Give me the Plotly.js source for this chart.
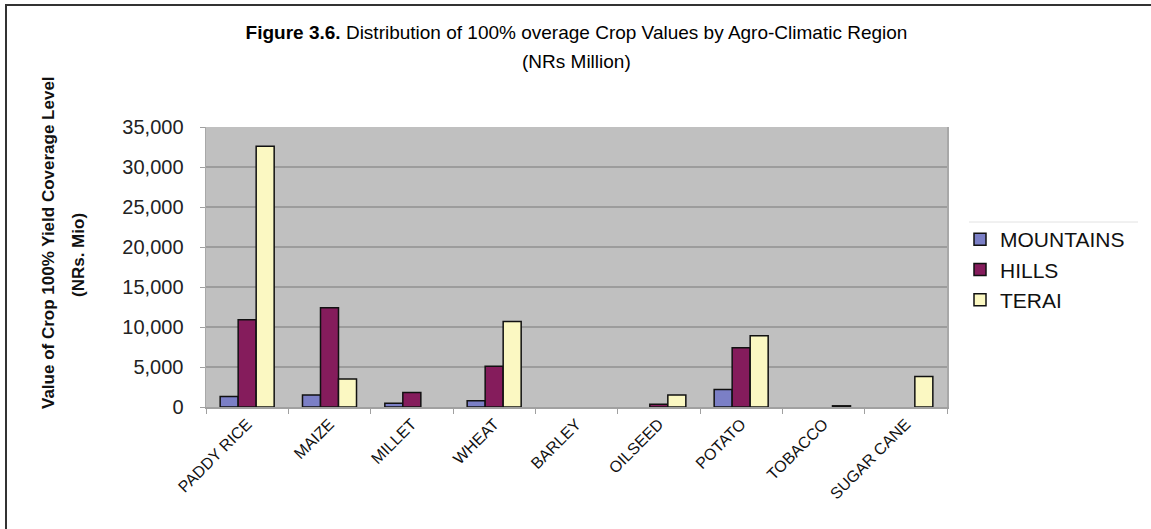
<!DOCTYPE html>
<html>
<head>
<meta charset="utf-8">
<script src="https://cdn.plot.ly/plotly-3.0.1.min.js"></script>
<style>
  html, body { margin: 0; padding: 0; background: #ffffff; }
  #chart { width: 1151px; height: 529px; }
</style>
</head>
<body>
<div id="chart"></div>
<script>
// ---- data (NRs million) ----
const crops = ["PADDY RICE", "MAIZE", "MILLET", "WHEAT", "BARLEY", "OILSEED", "POTATO", "TOBACCO", "SUGAR CANE"];
const mountains = [1300, 1500, 460, 790, null, null, 2200, null, null];
const hills     = [10900, 12400, 1800, 5100, null, 340, 7400, null, null];
const terai     = [32600, 3500, null, 10700, null, 1500, 8900, 150, 3800];
const seriesNames = ["MOUNTAINS", "HILLS", "TERAI"];
const yTicks = [0, 5000, 10000, 15000, 20000, 25000, 30000, 35000];

const colors = ["#7b7fc6", "#851c5c", "#fbf8c2"];
const FONT = "Liberation Sans, Arial, Helvetica, sans-serif";

const traces = [mountains, hills, terai].map((vals, i) => ({
  type: "bar",
  name: seriesNames[i],
  x: crops,
  y: vals,
  marker: { color: colors[i], line: { color: "#111111", width: 1.5 } },
  hoverinfo: "x+y+name"
}));

// plot area geometry in px
const L = 206, R = 947, T = 127, B = 407, W = 1151, H = 529;
const pw = R - L, ph = B - T;
const px = v => (v - L) / pw;
const py = v => (B - v) / ph;

const layout = {
  width: W, height: H,
  margin: { l: L, r: W - R, t: T, b: H - B, pad: 0 },
  paper_bgcolor: "#ffffff",
  plot_bgcolor: "#c0c0c0",
  font: { family: FONT, color: "#000000" },
  showlegend: true,
  barmode: "group",
  bargap: 0.344,
  bargroupgap: 0,
  title: {
    text: "<b>Figure 3.6.</b> Distribution of 100% overage Crop Values by Agro-Climatic Region",
    font: { family: FONT, size: 19, color: "#000000" },
    x: 0.5, xref: "paper", xanchor: "center",
    y: 1 - 32 / H, yref: "container", yanchor: "middle"
  },
  xaxis: {
    type: "category",
    tickangle: -45,
    tickson: "boundaries",
    ticks: "outside", ticklen: 5, tickcolor: "#a0a0a0",
    showline: true, linecolor: "#a0a0a0", linewidth: 1.5,
    mirror: false,
    showgrid: false,
    tickfont: { family: FONT, size: 16, color: "#111111" }
  },
  yaxis: {
    range: [0, 35000],
    tickvals: yTicks,
    tickformat: ",d",
    ticks: "outside", ticklen: 5, tickcolor: "#a0a0a0",
    ticklabelstandoff: 12,
    showline: true, linecolor: "#a8a8a8", linewidth: 1.5,
    mirror: true,
    showgrid: true, gridcolor: "#9c9c9c", gridwidth: 1.5,
    zeroline: false,
    tickfont: { family: FONT, size: 20, color: "#222222" }
  },
  legend: {
    x: px(960), y: py(219), xanchor: "left", yanchor: "top",
    xref: "paper", yref: "paper",
    bgcolor: "rgba(0,0,0,0)",
    borderwidth: 0,
    itemwidth: 30,
    tracegroupgap: 0,
    font: { family: FONT, size: 21, color: "#111111" }
  },
  annotations: [
    {
      text: "(NRs Million)",
      xref: "paper", yref: "paper",
      x: 0.5, y: py(62), xanchor: "center", yanchor: "middle",
      showarrow: false,
      font: { family: FONT, size: 19, color: "#000000" }
    },
    {
      text: "<b>Value of Crop 100% Yield Coverage Level</b>",
      xref: "paper", yref: "paper",
      x: px(48), y: py(243), xanchor: "center", yanchor: "middle",
      textangle: -90, showarrow: false,
      font: { family: FONT, size: 17, color: "#111111" }
    },
    {
      text: "<b>(NRs. Mio)</b>",
      xref: "paper", yref: "paper",
      x: px(78), y: py(255), xanchor: "center", yanchor: "middle",
      textangle: -90, showarrow: false,
      font: { family: FONT, size: 17, color: "#111111" }
    }
  ],
  shapes: [
    // outer frame (top and left)
    { type: "line", xref: "paper", yref: "paper", x0: px(5), x1: px(1151), y0: py(5), y1: py(5),
      line: { color: "#333333", width: 2 } },
    { type: "line", xref: "paper", yref: "paper", x0: px(6), x1: px(6), y0: py(4), y1: py(529),
      line: { color: "#333333", width: 2 } },
    // faint line above legend
    { type: "line", xref: "paper", yref: "paper", x0: px(969), x1: px(1138), y0: py(222), y1: py(222),
      line: { color: "#e2e2e2", width: 1 } }
  ]
};

Plotly.newPlot("chart", traces, layout, { displayModeBar: false, staticPlot: true });
</script>
</body>
</html>
